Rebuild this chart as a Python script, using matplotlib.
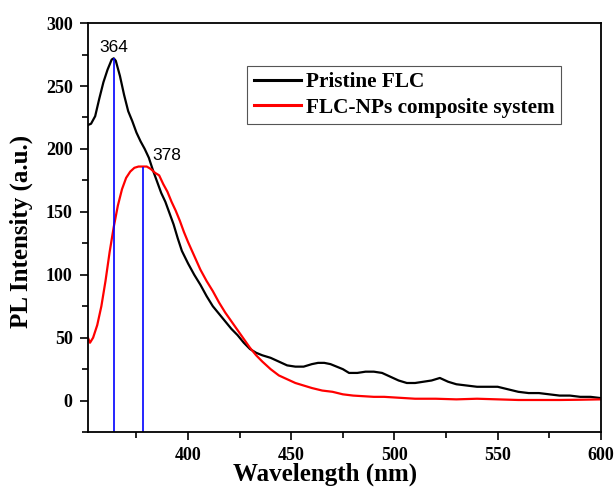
import matplotlib
matplotlib.use("Agg")
import matplotlib.pyplot as plt
from matplotlib.ticker import MultipleLocator

# ── Data ─────────────────────────────────────────────────────────────
wl_pristine = [351.5, 353, 355, 357, 359, 361, 363, 364, 365, 367, 369, 371, 373,
               375, 377, 379, 381, 383, 385, 387, 389, 391, 393, 395, 397, 400,
               403, 406, 409, 412, 415, 418, 421, 424, 427, 430, 433, 436, 440,
               444, 448, 452, 456, 460, 463, 466, 469, 472, 475, 478, 482, 486,
               490, 494, 498, 502, 506, 510, 514, 518, 522, 526, 530, 535, 540,
               545, 550, 555, 560, 565, 570, 575, 580, 585, 590, 595, 600]
pl_pristine = [219, 220, 226, 240, 253, 263, 271, 272, 270, 258, 243, 230, 222,
               213, 206, 200, 193, 183, 174, 165, 158, 149, 140, 129, 119, 109,
               100, 92, 83, 75, 69, 63, 57, 52, 46, 41, 38, 36, 34,
               31, 28, 27, 27, 29, 30, 30, 29, 27, 25, 22, 22, 23,
               23, 22, 19, 16, 14, 14, 15, 16, 18, 15, 13, 12, 11,
               11, 11, 9, 7, 6, 6, 5, 4, 4, 3, 3, 2]

wl_composite = [351.5, 352.5, 354, 356, 358, 360, 362, 364, 366, 368, 370, 372,
                374, 376, 378, 380, 382, 384, 386, 388, 390, 392, 394, 396, 398,
                400, 403, 406, 409, 412, 415, 418, 421, 424, 427, 430, 433, 436,
                440, 444, 448, 452, 456, 460, 465, 470, 475, 480, 485, 490, 495,
                500, 510, 520, 530, 540, 550, 560, 570, 580, 590, 600]
pl_composite = [50, 46, 50, 60, 75, 95, 118, 138, 155, 168, 177, 182,
                185, 186, 186, 186, 184, 181, 179, 172, 166, 158, 151, 143, 134,
                126, 115, 104, 95, 87, 78, 70, 63, 56, 49, 42, 36, 31,
                25, 20, 17, 14, 12, 10, 8, 7, 5, 4, 3.5, 3, 3,
                2.5, 1.5, 1.5, 1, 1.5, 1, 0.5, 0.5, 0.5, 0.7, 1]

peak_wl = [364, 378]
peak_pl = [272, 186]
peak_labels = ["364", "378"]

SERIF = "Liberation Serif"
SANS = "Liberation Sans"

fig = plt.figure(figsize=(6.15, 4.91), dpi=100)
ax = fig.add_axes([0.143, 0.12, 0.834, 0.833])

ax.plot(wl_pristine, pl_pristine, color="black", lw=1.6, label="Pristine FLC")
ax.plot(wl_composite, pl_composite, color="red", lw=1.6,
        label="FLC-NPs composite system")

# peak markers
ax.vlines(peak_wl, -25, peak_pl, color="blue", lw=1.2)
ax.text(peak_wl[0], peak_pl[0] + 3, peak_labels[0], ha="center", va="bottom",
        fontsize=12.5, family=SANS)
ax.text(peak_wl[1] + 4.5, peak_pl[1] + 3, peak_labels[1], ha="left", va="bottom",
        fontsize=12.5, family=SANS)

ax.set_xlim(351.5, 600)
ax.set_ylim(-25, 300)
ax.xaxis.set_major_locator(MultipleLocator(50))
ax.xaxis.set_minor_locator(MultipleLocator(25))
ax.yaxis.set_major_locator(MultipleLocator(50))
ax.yaxis.set_minor_locator(MultipleLocator(25))
ax.tick_params(which="major", direction="out", length=6, width=1.2, pad=5)
ax.tick_params(which="minor", direction="out", length=4, width=1.2)
for spine in ax.spines.values():
    spine.set_linewidth(1.3)

for lab in ax.get_xticklabels() + ax.get_yticklabels():
    lab.set_fontfamily(SERIF)
    lab.set_fontweight("bold")
    lab.set_fontsize(13)

ax.set_xlabel("Wavelength (nm)", family=SERIF, fontweight="bold", fontsize=18)
ax.set_ylabel("PL Intensity (a.u.)", family=SERIF, fontweight="bold", fontsize=18)
ax.xaxis.set_label_coords(0.462, -0.075)
ax.yaxis.set_label_coords(-0.107, 0.49)

leg = ax.legend(loc="upper left", bbox_to_anchor=(0.311, 0.895),
                prop={"family": SERIF, "weight": "bold", "size": 15.3},
                fancybox=False, edgecolor="#555555", framealpha=1,
                handlelength=2.2, borderpad=0.3, labelspacing=0.25,
                handletextpad=0.25, borderaxespad=0)
leg.get_frame().set_linewidth(0.8)
for line in leg.get_lines():
    line.set_linewidth(2.2)

fig.savefig("out.png", dpi=100)
